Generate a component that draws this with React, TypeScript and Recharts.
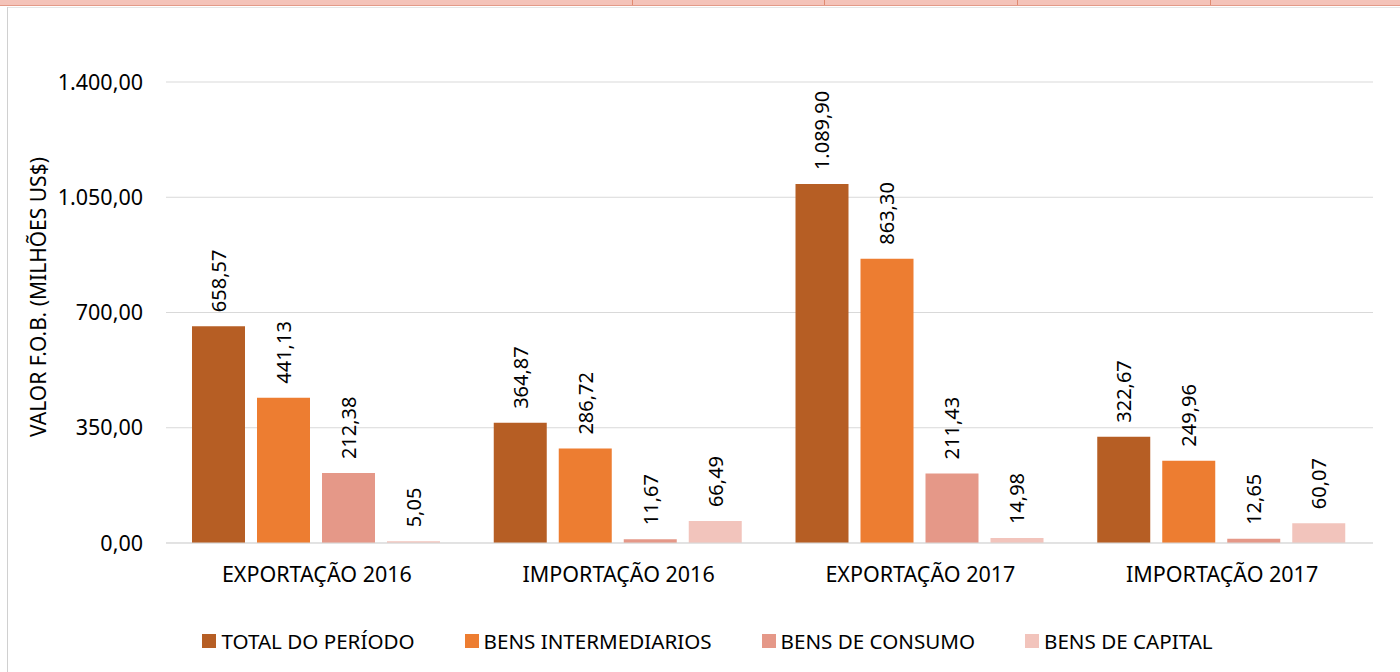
import React from "react";
import { BarChart, Bar, XAxis, YAxis, CartesianGrid, Legend, LabelList } from "recharts";

const categories = ["EXPORTAÇÃO 2016", "IMPORTAÇÃO 2016", "EXPORTAÇÃO 2017", "IMPORTAÇÃO 2017"];
const totalPeriodo = [658.57, 364.87, 1089.9, 322.67];
const bensIntermediarios = [441.13, 286.72, 863.3, 249.96];
const bensConsumo = [212.38, 11.67, 211.43, 12.65];
const bensCapital = [5.05, 66.49, 14.98, 60.07];
const yTicks = [0, 350, 700, 1050, 1400];

const seriesNames = ["TOTAL DO PERÍODO", "BENS INTERMEDIARIOS", "BENS DE CONSUMO", "BENS DE CAPITAL"];
const seriesColors = ["#B65E24", "#ED7D31", "#E59888", "#F2C4BC"];

const data = categories.map((c, i) => ({
  name: c,
  total: totalPeriodo[i],
  inter: bensIntermediarios[i],
  consumo: bensConsumo[i],
  capital: bensCapital[i],
}));

const FONT = "'Noto Sans', 'Open Sans', sans-serif";
const fmt = (v: number) =>
  v.toLocaleString("pt-BR", { minimumFractionDigits: 2, maximumFractionDigits: 2 });

const RotLabel = (props: any) => {
  const { x, y, width, value } = props;
  const cx = x + width / 2;
  const cy = y - 14;
  return (
    <text
      x={cx}
      y={cy}
      transform={`rotate(-90 ${cx} ${cy})`}
      textAnchor="start"
      dominantBaseline="central"
      fontFamily={FONT}
      fontSize={20}
      fill="#000"
    >
      {fmt(value)}
    </text>
  );
};

const YTitle = () => (
  <text
    x={38}
    y={297}
    transform="rotate(-90 38 297)"
    textAnchor="middle"
    dominantBaseline="central"
    fontFamily={FONT}
    fontSize={21}
    fill="#000"
  >
    VALOR F.O.B. (MILHÕES US$)
  </text>
);

const LegendContent = () => (
  <div
    style={{
      display: "flex",
      justifyContent: "center",
      gap: 50,
      fontFamily: FONT,
      fontSize: 20.6,
      color: "#000",
      paddingLeft: 15,
    }}
  >
    {seriesNames.map((n, i) => (
      <div key={n} style={{ display: "flex", alignItems: "center" }}>
        <span
          style={{
            display: "inline-block",
            width: 14,
            height: 14,
            background: seriesColors[i],
            marginRight: 5,
          }}
        />
        <span>{n}</span>
      </div>
    ))}
  </div>
);

export default function App() {
  const keys = ["total", "inter", "consumo", "capital"];
  return (
    <div style={{ position: "absolute", left: 0, top: 0, width: 1400, height: 672, background: "#fff", overflow: "hidden" }}>
      <style>{`body{margin:0}`}</style>
      <div style={{ position: "absolute", left: 0, top: 0, width: 1400, height: 5, background: "#F4C3B9", borderBottom: "1px solid #E39A88" }} />
      {[632, 824, 1017, 1210].map((x) => (
        <div key={x} style={{ position: "absolute", left: x, top: 0, width: 1, height: 5, background: "#E08A70" }} />
      ))}
      <div style={{ position: "absolute", left: 7, top: 7, width: 1393, height: 1, background: "#E6E6E6" }} />
      <div style={{ position: "absolute", left: 7, top: 7, width: 1, height: 665, background: "#D0D0D0" }} />
      <div style={{ position: "absolute", left: 0, top: 0 }}>
        <BarChart
          width={1400}
          height={672}
          data={data}
          margin={{ top: 82, right: 27, left: 0, bottom: 89 }}
          barCategoryGap={26}
          barGap={12}
        >
          <CartesianGrid vertical={false} stroke="#D9D9D9" />
          <XAxis
            dataKey="name"
            axisLine={{ stroke: "#D9D9D9" }}
            tickLine={false}
            tickMargin={18}
            height={40}
            tick={{ fontFamily: FONT, fontSize: 21.5, fill: "#000" }}
          />
          <YAxis
            width={166}
            domain={[0, 1400]}
            ticks={yTicks}
            axisLine={false}
            tickLine={false}
            tickMargin={17}
            tickFormatter={fmt}
            tick={{ fontFamily: FONT, fontSize: 21.5, fill: "#000" }}
            label={<YTitle />}
          />
          <Legend
            verticalAlign="middle"
            align="center"
            layout="horizontal"
            wrapperStyle={{ top: 627, left: 0, width: 1400 }}
            content={<LegendContent />}
          />
          {keys.map((k, i) => (
            <Bar key={k} dataKey={k} name={seriesNames[i]} fill={seriesColors[i]} isAnimationActive={false}>
              <LabelList dataKey={k} content={<RotLabel />} />
            </Bar>
          ))}
        </BarChart>
      </div>
    </div>
  );
}
